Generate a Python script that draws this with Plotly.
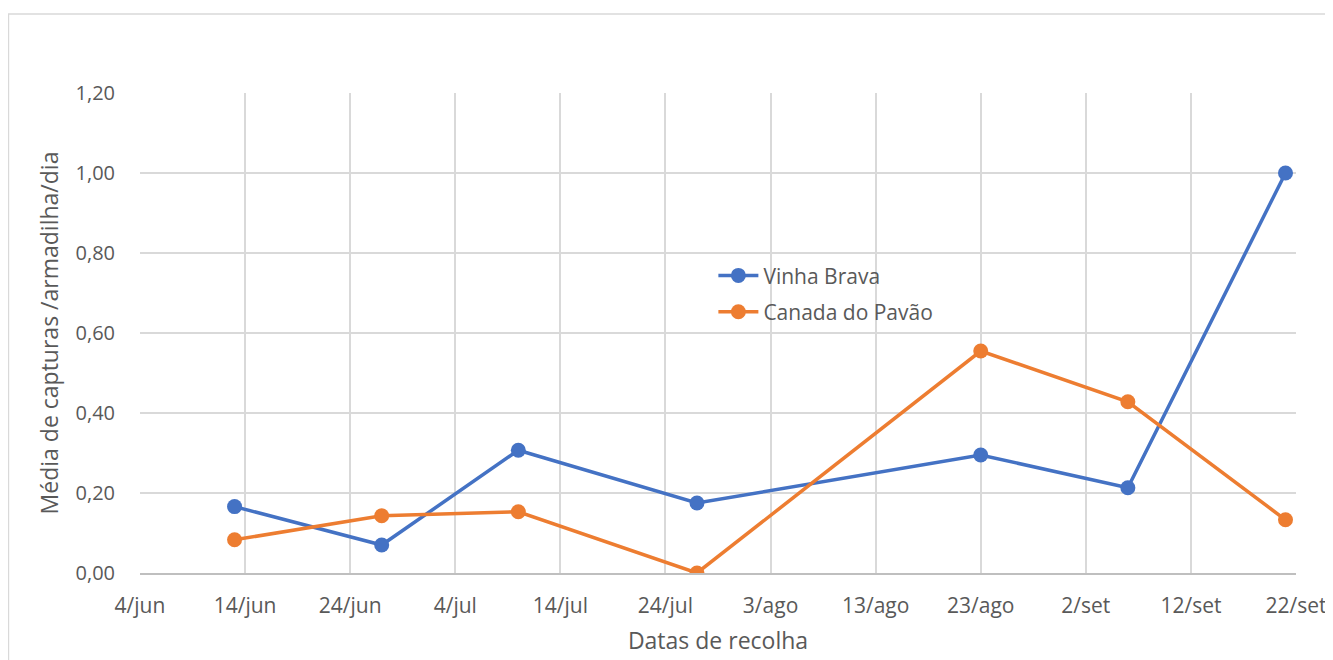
import plotly.graph_objects as go

dates = ["2019-06-13", "2019-06-27", "2019-07-10", "2019-07-27",
         "2019-08-23", "2019-09-06", "2019-09-21"]
vinha_brava = [0.166, 0.070, 0.307, 0.175, 0.295, 0.213, 1.000]
canada_pavao = [0.083, 0.143, 0.153, 0.000, 0.555, 0.428, 0.133]

tick_dates = ["2019-06-04", "2019-06-14", "2019-06-24", "2019-07-04",
              "2019-07-14", "2019-07-24", "2019-08-03", "2019-08-13",
              "2019-08-23", "2019-09-02", "2019-09-12", "2019-09-22"]
tick_labels = ["4/jun", "14/jun", "24/jun", "4/jul", "14/jul", "24/jul",
               "3/ago", "13/ago", "23/ago", "2/set", "12/set", "22/set"]
y_ticks = [0, 0.2, 0.4, 0.6, 0.8, 1.0, 1.2]
y_labels = ["0,00", "0,20", "0,40", "0,60", "0,80", "1,00", "1,20"]

FONT = "'Open Sans', 'Noto Sans', sans-serif"
GREY = "#595959"

fig = go.Figure()
fig.add_trace(go.Scatter(x=dates, y=vinha_brava, name="Vinha Brava",
                         mode="lines+markers", legendgroup="a",
                         line=dict(color="#4472C4", width=3.5),
                         marker=dict(color="#4472C4", size=15)))
fig.add_trace(go.Scatter(x=dates, y=canada_pavao, name="Canada do Pavão",
                         mode="lines+markers", legendgroup="b",
                         line=dict(color="#ED7D31", width=3.5),
                         marker=dict(color="#ED7D31", size=15)))

fig.update_layout(
    width=1333, height=660,
    margin=dict(l=132, r=45, t=85, b=95),
    paper_bgcolor="white", plot_bgcolor="white",
    font=dict(family=FONT, color=GREY, size=20),
    legend=dict(x=0.496, y=0.662, xanchor="left", yanchor="top",
                bgcolor="rgba(0,0,0,0)", font=dict(size=21, color=GREY),
                traceorder="grouped", tracegroupgap=6, itemwidth=40),
    xaxis=dict(type="date", range=["2019-06-04", "2019-09-22"],
               tickvals=tick_dates, ticktext=tick_labels,
               showgrid=True, gridcolor="#d9d9d9", gridwidth=1.5,
               showline=True, linecolor="#bfbfbf", linewidth=1.5,
               ticks="outside", ticklen=13, tickcolor="rgba(0,0,0,0)",
               tickfont=dict(size=21, color=GREY),
               title=dict(text="Datas de recolha", font=dict(size=23, color=GREY),
                          standoff=15),
               zeroline=False),
    yaxis=dict(range=[0, 1.2], tickvals=y_ticks, ticktext=y_labels,
               showgrid=True, gridcolor="#d9d9d9", gridwidth=1.5,
               showline=False, zeroline=False,
               ticks="outside", ticklen=20, tickcolor="rgba(0,0,0,0)",
               tickfont=dict(size=20, color=GREY),
               title=dict(text="Média de capturas /armadilha/dia",
                          font=dict(size=23, color=GREY), standoff=10)),
)

fig.add_shape(type="rect", xref="paper", yref="paper",
              x0=-0.1138, x1=1.04, y0=-0.2, y1=1.1646,
              line=dict(color="#d9d9d9", width=1.5), layer="below")

fig.write_html("out.html")
